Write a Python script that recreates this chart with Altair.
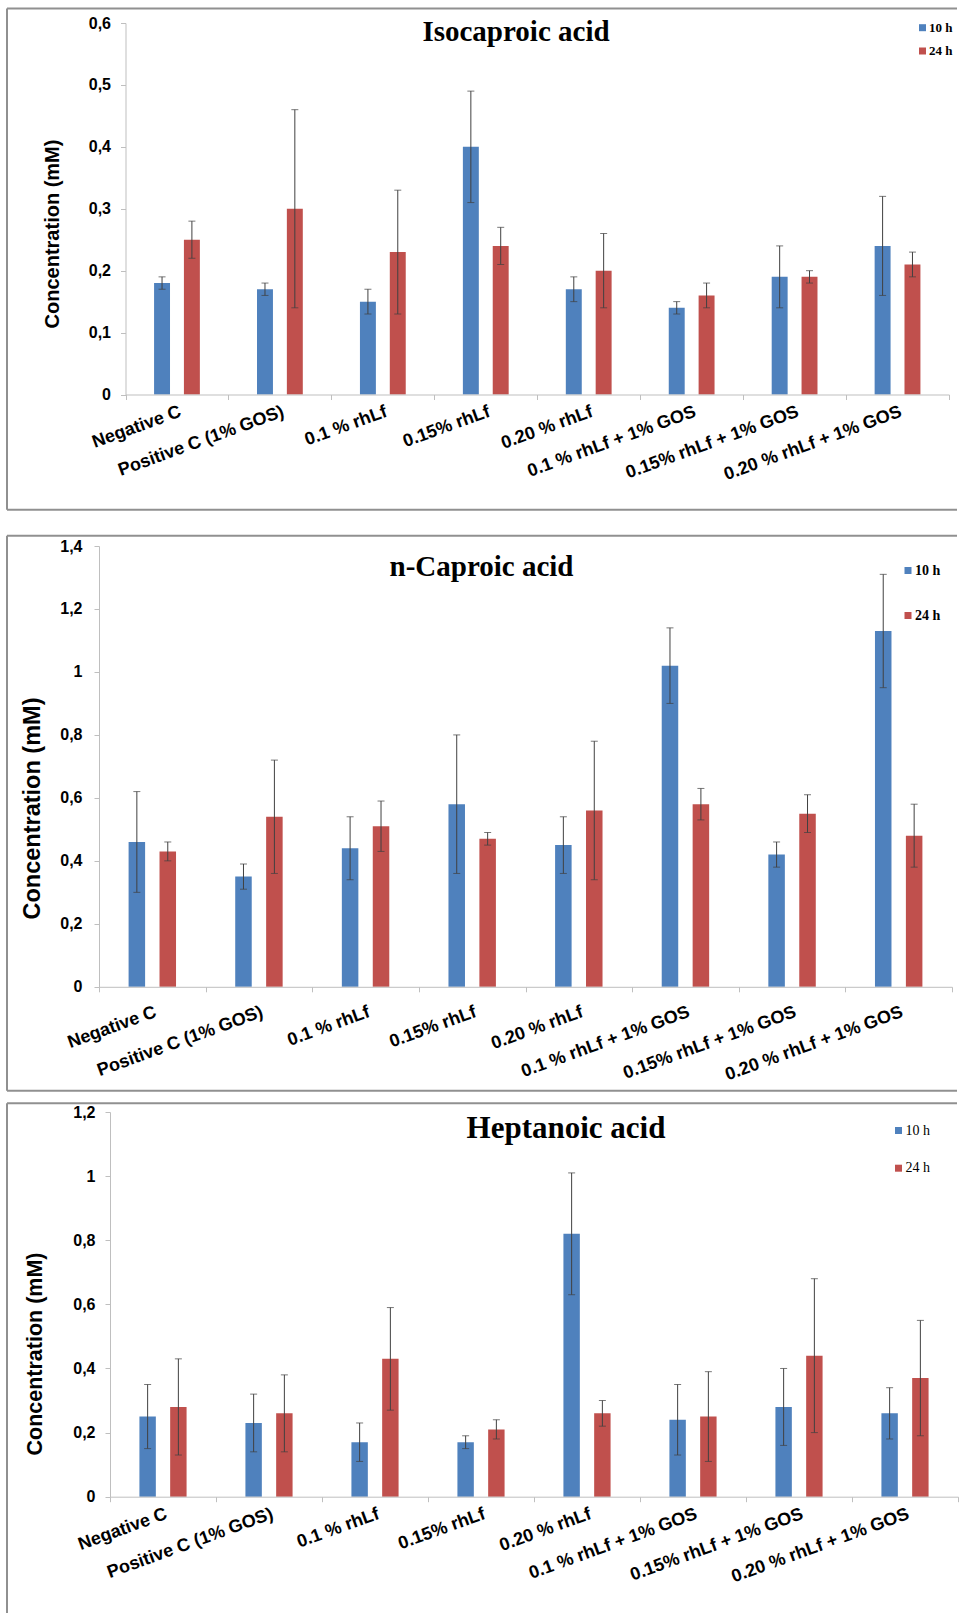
import altair as alt
import pandas as pd

# Treatment groups on the x axis
groups = [
    "Negative C",
    "Positive C (1% GOS)",
    "0.1 % rhLf",
    "0.15% rhLf",
    "0.20 % rhLf",
    "0.1 % rhLf + 1% GOS",
    "0.15% rhLf + 1% GOS",
    "0.20 % rhLf + 1% GOS",
]
series = ["10 h", "24 h"]
colors = ["#4F81BD", "#C0504D"]

# Isocaproic acid (mM): means and standard deviations
iso_10 = [0.18, 0.17, 0.15, 0.40, 0.17, 0.14, 0.19, 0.24]
iso_10_err = [0.01, 0.01, 0.02, 0.09, 0.02, 0.01, 0.05, 0.08]
iso_24 = [0.25, 0.30, 0.23, 0.24, 0.20, 0.16, 0.19, 0.21]
iso_24_err = [0.03, 0.16, 0.10, 0.03, 0.06, 0.02, 0.01, 0.02]

# n-Caproic acid (mM)
cap_10 = [0.46, 0.35, 0.44, 0.58, 0.45, 1.02, 0.42, 1.13]
cap_10_err = [0.16, 0.04, 0.10, 0.22, 0.09, 0.12, 0.04, 0.18]
cap_24 = [0.43, 0.54, 0.51, 0.47, 0.56, 0.58, 0.55, 0.48]
cap_24_err = [0.03, 0.18, 0.08, 0.02, 0.22, 0.05, 0.06, 0.10]

# Heptanoic acid (mM)
hep_10 = [0.25, 0.23, 0.17, 0.17, 0.82, 0.24, 0.28, 0.26]
hep_10_err = [0.10, 0.09, 0.06, 0.02, 0.19, 0.11, 0.12, 0.08]
hep_24 = [0.28, 0.26, 0.43, 0.21, 0.26, 0.25, 0.44, 0.37]
hep_24_err = [0.15, 0.12, 0.16, 0.03, 0.04, 0.14, 0.24, 0.18]

PAGE_W = 959
GX = 99  # common left edge of the three view groups (stacked layout aligns them)
FRAME = "#909090"
AXIS_GREY = "#bfbfbf"
SANS = "Liberation Sans"
SERIF = "Liberation Serif"


def long_table(v10, e10, v24, e24):
    rows = []
    for g, a, ea, b, eb in zip(groups, v10, e10, v24, e24):
        rows.append({"group": g, "series": "10 h", "value": a, "lo": a - ea, "hi": a + ea})
        rows.append({"group": g, "series": "24 h", "value": b, "lo": b - eb, "hi": b + eb})
    return pd.DataFrame(rows)


def panel(title, v10, e10, v24, e24, ticks, g):
    df = long_table(v10, e10, v24, e24)
    oy = g["oy"]
    shift = g["ax"] - GX  # plot starts this far right of the group edge
    one = pd.DataFrame({"t": [title]})

    xaxis = alt.Axis(
        title=None, labelAngle=340, labelAlign="right", labelBaseline="top",
        labelFont=SANS, labelFontWeight="bold", labelFontSize=18, labelColor="black",
        labelPadding=g["xlpad"], labelLimit=0, labelOverlap=False, zindex=1,
        tickSize=5, tickBand="extent", tickColor=AXIS_GREY, domainColor=AXIS_GREY,
    )
    yaxis = alt.Axis(
        values=ticks, grid=False, zindex=1, offset=-shift,
        labelExpr="replace(format(datum.value, '~g'), '.', ',')",
        labelFont=SANS, labelFontWeight="bold", labelFontSize=16, labelColor="black",
        labelPadding=g["ylpad"], tickSize=5, tickColor=AXIS_GREY, domainColor=AXIS_GREY,
        title="Concentration (mM)", titleFont=SANS, titleFontWeight="bold",
        titleFontSize=g["ytsize"], titleColor="black", titleAngle=270,
        titleAlign="center", titleBaseline="bottom",
        titleX=g["ytx"], titleY=g["yty"],
    )
    xs = alt.Scale(paddingInner=0, paddingOuter=0, range=[shift, shift + g["w"]])
    ys = alt.Scale(domain=[0, ticks[-1]], nice=False, zero=True)
    xo = alt.XOffset("series:N", scale=alt.Scale(domain=series, paddingInner=0.466, paddingOuter=0.957))
    xenc = alt.X("group:N", sort=groups, scale=xs, axis=xaxis)

    # white cell that fixes this panel's extent in the stacked layout
    cell = alt.Chart(one).mark_rect(fill="white", strokeWidth=0).encode(
        x=alt.value(-GX), x2=alt.value(PAGE_W - GX),
        y=alt.value(g["cell_top"] - oy), y2=alt.value(g["cell_bot"] - oy),
    )
    # grey frame around the panel (open on the right)
    fl, fr = 7 - GX, PAGE_W - 2 - GX
    ft, fb = g["ftop"] - oy, g["fbot"] - oy
    frame_left = alt.Chart(one).mark_rule(color=FRAME, strokeWidth=2).encode(
        x=alt.value(fl), y=alt.value(ft), y2=alt.value(fb))
    frame_top = alt.Chart(one).mark_rule(color=FRAME, strokeWidth=2).encode(
        x=alt.value(fl), x2=alt.value(fr), y=alt.value(ft))
    layers = [cell, frame_left, frame_top]
    if g["closed"]:
        layers.append(alt.Chart(one).mark_rule(color=FRAME, strokeWidth=2).encode(
            x=alt.value(fl), x2=alt.value(fr), y=alt.value(fb)))

    bars = alt.Chart(df).mark_bar().encode(
        x=xenc, xOffset=xo,
        y=alt.Y("value:Q", scale=ys, axis=yaxis),
        color=alt.Color(
            "series:N",
            scale=alt.Scale(domain=series, range=colors),
            legend=alt.Legend(
                title=None, orient="none", legendX=g["lx"] - GX, legendY=g["ly"] - oy,
                direction="vertical", padding=0, offset=0, zindex=1,
                symbolType="square", symbolSize=49, symbolStrokeWidth=0,
                labelFont=SERIF, labelFontWeight=g["lweight"], labelFontSize=g["lsize"],
                labelColor="black", labelOffset=0, rowPadding=g["lrow"],
            ),
        ),
    )
    whisker = alt.Chart(df).mark_rule(color="#404040", strokeWidth=1).encode(
        x=xenc, xOffset=xo,
        y=alt.Y("lo:Q", scale=ys, axis=yaxis), y2="hi:Q",
    )
    cap_hi = alt.Chart(df).mark_tick(color="#404040", thickness=1, size=7).encode(
        x=xenc, xOffset=xo, y=alt.Y("hi:Q", scale=ys, axis=yaxis))
    cap_lo = alt.Chart(df).mark_tick(color="#404040", thickness=1, size=7).encode(
        x=xenc, xOffset=xo, y=alt.Y("lo:Q", scale=ys, axis=yaxis))
    heading = alt.Chart(one).mark_text(
        font=SERIF, fontWeight="bold", fontSize=g["tsize"], color="black",
        align="center", baseline="alphabetic",
    ).encode(x=alt.value(g["tx"] - GX), y=alt.value(g["ty"] - oy), text="t:N")

    layers += [bars, whisker, cap_hi, cap_lo, heading]
    return alt.layer(*layers).properties(width=PAGE_W - 2 - GX, height=g["h"])


# page positions: ax/oy = plot-area left/top, tx/ty = heading centre/baseline,
# lx/ly = legend top-left corner
p1 = panel(
    "Isocaproic acid", iso_10, iso_10_err, iso_24, iso_24_err,
    [0, 0.1, 0.2, 0.3, 0.4, 0.5, 0.6],
    dict(ax=125.5, oy=23, w=823.5, h=371.5, cell_top=0, cell_bot=522,
         ftop=8.5, fbot=509.7, closed=True, tx=516, ty=41, tsize=29,
         ytsize=20, ytx=-63.5, yty=210.5, ylpad=10, xlpad=3,
         lx=916, ly=21.2, lrow=9.3, lweight="bold", lsize=13),
)
p2 = panel(
    "n-Caproic acid", cap_10, cap_10_err, cap_24, cap_24_err,
    [0, 0.2, 0.4, 0.6, 0.8, 1.0, 1.2, 1.4],
    dict(ax=99, oy=546, w=853, h=440.8, cell_top=522, cell_bot=1097,
         ftop=535.7, fbot=1090.7, closed=True, tx=481.5, ty=576, tsize=29,
         ytsize=23.5, ytx=-55, yty=262, ylpad=12, xlpad=11,
         lx=901, ly=563.5, lrow=31, lweight="bold", lsize=14),
)
p3 = panel(
    "Heptanoic acid", hep_10, hep_10_err, hep_24, hep_24_err,
    [0, 0.2, 0.4, 0.6, 0.8, 1.0, 1.2],
    dict(ax=110, oy=1112, w=848, h=384.7, cell_top=1097, cell_bot=1613,
         ftop=1103.3, fbot=1613, closed=False, tx=566, ty=1138, tsize=31,
         ytsize=21.5, ytx=-64, yty=241.5, ylpad=10, xlpad=3,
         lx=891.5, ly=1123.5, lrow=23.7, lweight="normal", lsize=14),
)

chart = (
    alt.concat(p1, p2, p3, columns=1, spacing=0)
    .resolve_scale(x="independent", y="independent", color="independent", xOffset="independent")
    .properties(padding=0, background="white", align="none", bounds="full")
    .configure_view(stroke=None)
)

chart.save("out.html", embed_options={"renderer": "svg", "actions": False})
